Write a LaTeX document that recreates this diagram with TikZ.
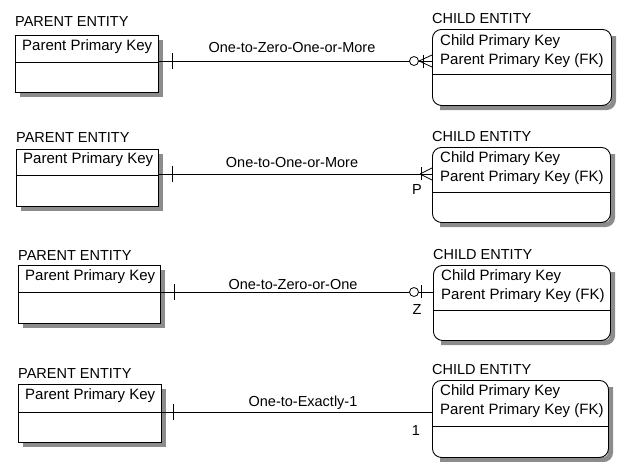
\documentclass[tikz,border=0pt]{standalone}
\usepackage{fontspec}
\setmainfont{Liberation Sans}
\definecolor{shadowgrey}{RGB}{140,140,140}
\begin{document}
\begin{tikzpicture}[x=1pt,y=-1pt,
  ttl/.style={font=\fontsize{14.5}{16}\selectfont, inner sep=0pt, anchor=west},
  txt/.style={font=\fontsize{15}{17}\selectfont, inner sep=0pt, anchor=west},
  rel/.style={font=\fontsize{14.5}{16}\selectfont, inner sep=0pt},
  shd/.style={draw=shadowgrey, line width=5pt, line cap=butt, line join=miter},
  cshd/.style={draw=shadowgrey, line width=5pt, line cap=butt, rounded corners=7pt},
  pbox/.style={draw, line width=0.9pt, anchor=north west, inner sep=0pt},
  cbox/.style={draw, line width=0.9pt, anchor=north west, inner sep=0pt, rounded corners=9pt},
  ln/.style={line width=0.8pt},
  ring/.style={draw, fill=white, circle, inner sep=0pt, minimum size=9pt, line width=0.8pt}]
\useasboundingbox (0,0) rectangle (618,461);

% ---------- shadows (drawn as thick grey strokes) ----------
\draw[shd] (160.5,40) -- (160.5,94.5) -- (20,94.5);
\draw[shd] (160.5,154) -- (160.5,208.5) -- (21,208.5);
\draw[shd] (162.5,270) -- (162.5,325.5) -- (23,325.5);
\draw[shd] (163.5,389) -- (163.5,444.5) -- (23,444.5);
\draw[cshd] (613.5,36) -- (613.5,107.5) -- (440,107.5);
\draw[cshd] (612.5,154) -- (612.5,224.5) -- (440,224.5);
\draw[cshd] (612.5,272) -- (612.5,342.5) -- (441,342.5);
\draw[cshd] (610.5,387) -- (610.5,459.5) -- (440,459.5);

% ---------- Row 1 ----------
\node[ttl] (pl1) at (15,22) {PARENT ENTITY};
\node[pbox, minimum width=143pt, minimum height=57pt] (p1) at (15,35) {};
\draw[ln] (15,62) -- (158,62);
\node[txt] (pk1) at (22,47) {Parent Primary Key};
\node[ttl] (cl1) at (432,19) {CHILD ENTITY};
\node[cbox, minimum width=179pt, minimum height=76pt] (c1) at (432,29) {};
\draw[ln] (432,74) -- (611,74);
\node[txt] (ck1) at (440,42) {Child Primary Key};
\node[txt] (cf1) at (440,61) {Parent Primary Key (FK)};
\coordinate (l1) at (0,61);
\draw[ln] (p1.east |- l1) -- (c1.west |- l1);
\draw[ln] (172,53) -- (172,69);
\node[ring] (o1) at (414,61) {};
\draw[ln] (423,55) -- (423,68);
\draw[ln] (419,61) -- (432,55);
\draw[ln] (419,61) -- (432,67);
\node[rel] (r1) at (292,48) {One-to-Zero-One-or-More};

% ---------- Row 2 ----------
\node[ttl] (pl2) at (16,138) {PARENT ENTITY};
\node[pbox, minimum width=142pt, minimum height=57pt] (p2) at (16,149) {};
\draw[ln] (16,175) -- (158,175);
\node[txt] (pk2) at (23,160) {Parent Primary Key};
\node[ttl] (cl2) at (432,137) {CHILD ENTITY};
\node[cbox, minimum width=178pt, minimum height=75pt] (c2) at (432,147) {};
\draw[ln] (432,192) -- (610,192);
\node[txt] (ck2) at (440,159) {Child Primary Key};
\node[txt] (cf2) at (440,178) {Parent Primary Key (FK)};
\coordinate (l2) at (0,174);
\draw[ln] (p2.east |- l2) -- (c2.west |- l2);
\draw[ln] (172,166) -- (172,182);
\draw[ln] (421,167) -- (421,180);
\draw[ln] (420,174) -- (432,168);
\draw[ln] (420,174) -- (432,180);
\node[rel] (m2) at (417,190) {P};
\node[rel] (r2) at (292,163) {One-to-One-or-More};

% ---------- Row 3 ----------
\node[ttl] (pl3) at (18,256) {PARENT ENTITY};
\node[pbox, minimum width=142pt, minimum height=58pt] (p3) at (18,265) {};
\draw[ln] (18,292) -- (160,292);
\node[txt] (pk3) at (25,277) {Parent Primary Key};
\node[ttl] (cl3) at (433,255) {CHILD ENTITY};
\node[cbox, minimum width=177pt, minimum height=75pt] (c3) at (433,265) {};
\draw[ln] (433,310) -- (610,310);
\node[txt] (ck3) at (441,277) {Child Primary Key};
\node[txt] (cf3) at (441,296) {Parent Primary Key (FK)};
\coordinate (l3) at (0,292);
\draw[ln] (p3.east |- l3) -- (c3.west |- l3);
\draw[ln] (174,284) -- (174,300);
\node[ring] (o3) at (414,292) {};
\draw[ln] (421,285) -- (421,298);
\node[rel] (m3) at (417,310) {Z};
\node[rel] (r3) at (293,285) {One-to-Zero-or-One};

% ---------- Row 4 ----------
\node[ttl] (pl4) at (18,374) {PARENT ENTITY};
\node[pbox, minimum width=143pt, minimum height=58pt] (p4) at (18,384) {};
\draw[ln] (18,412) -- (161,412);
\node[txt] (pk4) at (25,396) {Parent Primary Key};
\node[ttl] (cl4) at (432,370) {CHILD ENTITY};
\node[cbox, minimum width=176pt, minimum height=77pt] (c4) at (432,380) {};
\draw[ln] (432,426) -- (608,426);
\node[txt] (ck4) at (440,392) {Child Primary Key};
\node[txt] (cf4) at (440,411) {Parent Primary Key (FK)};
\coordinate (l4) at (0,412);
\draw[ln] (p4.east |- l4) -- (c4.west |- l4);
\draw[ln] (173,404) -- (173,420);
\node[rel] (m4) at (416,431) {1};
\node[rel] (r4) at (303,403) {One-to-Exactly-1};
\end{tikzpicture}
\end{document}
